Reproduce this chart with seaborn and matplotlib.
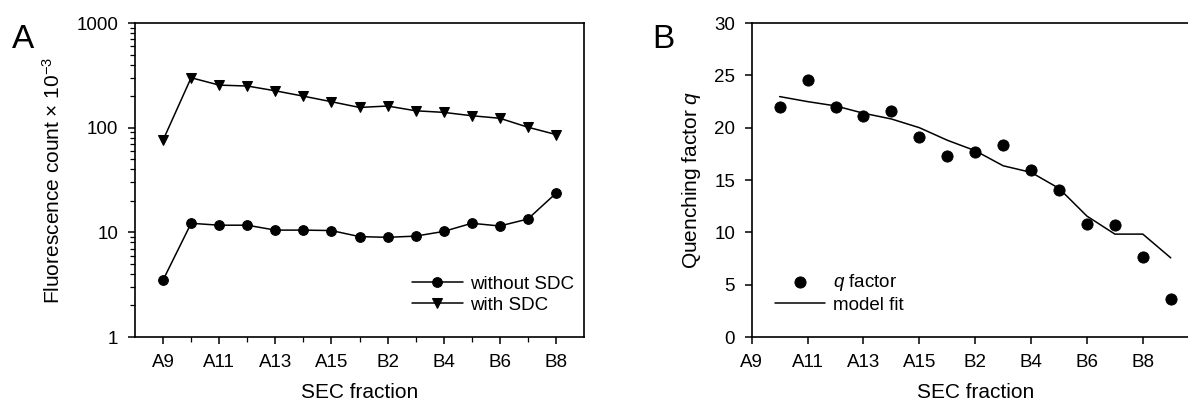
import numpy as np
import pandas as pd
import matplotlib
matplotlib.use("Agg")
import matplotlib.pyplot as plt
from matplotlib.ticker import FixedLocator, LogLocator, NullFormatter
import seaborn as sns

####Data#######################################################################
fractions = ["A9", "A10", "A11", "A12", "A13", "A14", "A15",
             "B1", "B2", "B3", "B4", "B5", "B6", "B7", "B8"]
without_sdc = [3.5, 12.2, 11.7, 11.7, 10.5, 10.5, 10.4,
               9.1, 8.96, 9.2, 10.2, 12.2, 11.5, 13.4, 23.6]
with_sdc = [76, 300, 255, 250, 225, 200, 177,
            156, 161, 145, 140, 130, 123, 101, 86]

q_fractions = ["A10", "A11", "A12", "A13", "A14", "A15", "B1", "B2",
               "B3", "B4", "B5", "B6", "B7", "B8", "B9"]
q_factor = [22.0, 24.56, 21.95, 21.15, 21.63, 19.14, 17.29, 17.65,
            18.35, 15.92, 14.04, 10.78, 10.69, 7.69, 3.67]
model_fit = [22.97, 22.49, 22.08, 21.38, 20.83, 20.0, 18.8, 17.8,
             16.36, 15.73, 14.2, 11.55, 9.83, 9.83, 7.56]

all_fractions = fractions + ["B9", "B10"]
pos = {f: i for i, f in enumerate(all_fractions)}

####Style######################################################################
sns.set_theme(style="ticks")
plt.rcParams['font.family'] = ['Liberation Sans', 'DejaVu Sans']
plt.rcParams['mathtext.fontset'] = 'custom'
plt.rcParams['mathtext.rm'] = 'Liberation Sans'
plt.rcParams['mathtext.it'] = 'Liberation Sans:italic'
plt.rcParams['mathtext.default'] = 'regular'
plt.rcParams['axes.linewidth'] = 1.2
plt.rcParams['axes.edgecolor'] = 'black'
plt.rcParams['text.color'] = 'black'
plt.rcParams['axes.labelcolor'] = 'black'
plt.rcParams['xtick.color'] = 'black'
plt.rcParams['ytick.color'] = 'black'
plt.rcParams['xtick.direction'] = 'out'
plt.rcParams['ytick.direction'] = 'out'

fig = plt.figure(figsize=(11.88, 4.01), dpi=100)
axA = fig.add_axes([135 / 1188, 64 / 401, 449 / 1188, 314 / 401])
axB = fig.add_axes([751.7 / 1188, 64 / 401, 447 / 1188, 314 / 401])

tick_fs = 13.5
label_fs = 15
leg_fs = 13.5

####Panel A####################################################################
dfA = pd.DataFrame({
    "x": [pos[f] for f in fractions] * 2,
    "y": without_sdc + with_sdc,
    "cond": ["without SDC"] * len(fractions) + ["with SDC"] * len(fractions),
})
sns.lineplot(data=dfA, x="x", y="y", style="cond",
             markers={"without SDC": "o", "with SDC": "v"}, dashes=False,
             color="black", markersize=7, linewidth=1.1,
             markeredgecolor="black", ax=axA)
axA.set_yscale("log")
axA.set_ylim(1, 1000)
axA.set_xlim(-1, 15)
axA.set_yticks([1, 10, 100, 1000])
axA.set_yticklabels(["1", "10", "100", "1000"])
axA.yaxis.set_minor_locator(LogLocator(base=10, subs=np.arange(2, 10)))
axA.yaxis.set_minor_formatter(NullFormatter())
major = list(range(0, 15, 2))
axA.xaxis.set_major_locator(FixedLocator(major))
axA.set_xticklabels([fractions[i] for i in major])
axA.xaxis.set_minor_locator(FixedLocator(list(range(1, 15, 2))))
axA.tick_params(which="major", length=5, width=1.1, labelsize=tick_fs, pad=7)
axA.tick_params(which="minor", length=3.5, width=0.9)
axA.set_xlabel("SEC fraction", fontsize=label_fs, labelpad=9)
axA.set_ylabel("Fluorescence count × 10$^{-3}$", fontsize=label_fs, labelpad=9)
hA, lA = axA.get_legend_handles_labels()
axA.legend(hA, lA, loc="lower right", frameon=False, fontsize=leg_fs,
           handlelength=2.7, handletextpad=0.4, labelspacing=0.2,
           borderaxespad=0.0, bbox_to_anchor=(0.995, 0.05))

####Panel B####################################################################
dfB = pd.DataFrame({
    "x": [pos[f] for f in q_fractions],
    "q": q_factor,
    "fit": model_fit,
})
sns.scatterplot(data=dfB, x="x", y="q", color="black", s=65,
                edgecolor="black", label="$\\mathit{q}$ factor", ax=axB)
sns.lineplot(data=dfB, x="x", y="fit", color="black", linewidth=1.1,
             label="model fit", ax=axB)
axB.set_ylim(0, 30)
axB.set_xlim(0, 16)
axB.set_yticks(range(0, 31, 5))
axB.xaxis.set_major_locator(FixedLocator(major))
axB.set_xticklabels([fractions[i] for i in major])
axB.tick_params(which="major", length=5, width=1.1, labelsize=tick_fs, pad=7)
axB.set_xlabel("SEC fraction", fontsize=label_fs, labelpad=9)
axB.set_ylabel("Quenching factor $\\mathit{q}$", fontsize=label_fs, labelpad=8)
axB.legend(loc="lower left", frameon=False, fontsize=leg_fs,
           handlelength=2.7, handletextpad=0.4, labelspacing=0.2,
           borderaxespad=0.0, bbox_to_anchor=(0.035, 0.05))

####Panel letters##############################################################
fig.text(12 / 1188, 1 - 48 / 401, "A", fontsize=24)
fig.text(652 / 1188, 1 - 48 / 401, "B", fontsize=24)

fig.savefig("out.png", dpi=100)
